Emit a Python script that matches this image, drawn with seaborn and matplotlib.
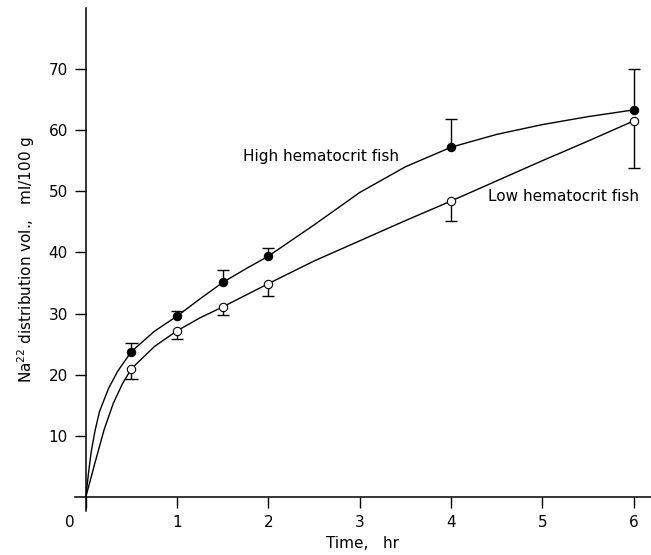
import numpy as np
import pandas as pd
import matplotlib
matplotlib.use("Agg")
import matplotlib.pyplot as plt
import matplotlib.transforms as mtransforms
import seaborn as sns

# -----------------------------
# Data
# -----------------------------
time_pts = [0.5, 1.0, 1.5, 2.0, 4.0, 6.0]
high_vals = [23.8, 29.6, 35.1, 39.4, 57.2, 63.3]
high_err_top = [25.2, 30.4, 37.2, 40.8, 61.8, 70.0]
low_vals = [21.0, 27.2, 31.1, 34.9, 48.4, 61.5]
low_err_bottom = [19.3, 25.9, 29.8, 32.8, 45.2, 53.8]

# hand-drawn fitted curves
high_curve_x = [0, 0.03, 0.06, 0.1, 0.15, 0.25, 0.35, 0.5, 0.75, 1.0, 1.25, 1.5, 1.75,
                2.0, 2.5, 3.0, 3.5, 4.0, 4.5, 5.0, 5.5, 6.0]
high_curve_y = [0, 4.0, 7.5, 10.8, 14.0, 17.8, 20.6, 23.8, 27.1, 29.6, 32.4, 35.1, 37.3,
                39.4, 44.5, 49.8, 54.0, 57.2, 59.3, 60.9, 62.2, 63.3]
low_curve_x = [0, 0.05, 0.1, 0.2, 0.3, 0.4, 0.5, 0.75, 1.0, 1.25, 1.5, 1.75, 2.0,
               2.5, 3.0, 3.5, 4.0, 4.5, 5.0, 5.5, 6.0]
low_curve_y = [0, 2.8, 5.6, 11.0, 15.3, 18.5, 21.0, 24.6, 27.2, 29.3, 31.1, 33.0, 34.9,
               38.6, 41.9, 45.2, 48.4, 51.7, 55.0, 58.2, 61.5]

x_ticks = [0, 1, 2, 3, 4, 5, 6]
y_ticks = [10, 20, 30, 40, 50, 60, 70]

sns.set_style("ticks")
plt.rcParams["font.family"] = ["DejaVu Sans"]
plt.rcParams["text.color"] = "black"
plt.rcParams["xtick.color"] = "black"
plt.rcParams["ytick.color"] = "black"
plt.rcParams["axes.labelcolor"] = "black"
plt.rcParams["axes.edgecolor"] = "black"

fig = plt.figure(figsize=(6.51, 5.55), dpi=100)
ax = fig.add_axes([0.115, 0.079, 0.885, 0.907])

# curves
sns.lineplot(x=high_curve_x, y=high_curve_y, ax=ax, color="black", linewidth=1.0,
             estimator=None, sort=False)
sns.lineplot(x=low_curve_x, y=low_curve_y, ax=ax, color="black", linewidth=1.0,
             estimator=None, sort=False)

# one-sided error bars
cap = 0.066
ax.vlines(time_pts, high_vals, high_err_top, color="black", linewidth=1.0)
ax.hlines(high_err_top, np.array(time_pts) - cap, np.array(time_pts) + cap,
          color="black", linewidth=1.0)
ax.vlines(time_pts, low_err_bottom, low_vals, color="black", linewidth=1.0)
ax.hlines(low_err_bottom, np.array(time_pts) - cap, np.array(time_pts) + cap,
          color="black", linewidth=1.0)

# points
sns.scatterplot(x=time_pts, y=high_vals, ax=ax, color="black", s=36,
                edgecolor="black", linewidth=0.8, zorder=5)
sns.scatterplot(x=time_pts, y=low_vals, ax=ax, color="white", s=36,
                edgecolor="black", linewidth=0.8, zorder=5)

ax.text(1.72, 55.7, "High hematocrit fish", fontsize=11, va="center", ha="left")
ax.text(4.41, 49.2, "Low hematocrit fish", fontsize=11, va="center", ha="left")

# axes
ax.set_xlim(-0.12, 6.19)
ax.set_ylim(-2.3, 80)
ax.spines["left"].set_position(("data", 0))
ax.spines["bottom"].set_position(("data", 0))
ax.spines["top"].set_visible(False)
ax.spines["right"].set_visible(False)
for s in ("left", "bottom"):
    ax.spines[s].set_linewidth(1.1)

ax.set_xticks(x_ticks)
ax.set_xticklabels([str(t) for t in x_ticks])
ax.set_yticks(y_ticks)
ax.set_yticklabels([str(t) for t in y_ticks])
ax.tick_params(axis="both", direction="out", length=8, width=1.0, labelsize=11)
ax.tick_params(axis="x", pad=5)
ax.tick_params(axis="y", pad=5)

# shift the shared origin label to the left
offset = mtransforms.ScaledTranslation(-16 / 100, 0, fig.dpi_scale_trans)
lbl0 = ax.get_xticklabels()[0]
lbl0.set_transform(lbl0.get_transform() + offset)

ax.set_xlabel("Time,   hr", fontsize=11, labelpad=4)
ax.set_ylabel("Na$^{22}$ distribution vol.,   ml/100 g", fontsize=11)
ax.yaxis.set_label_coords(-0.065, 0.5)

fig.savefig("out.png", dpi=100)
